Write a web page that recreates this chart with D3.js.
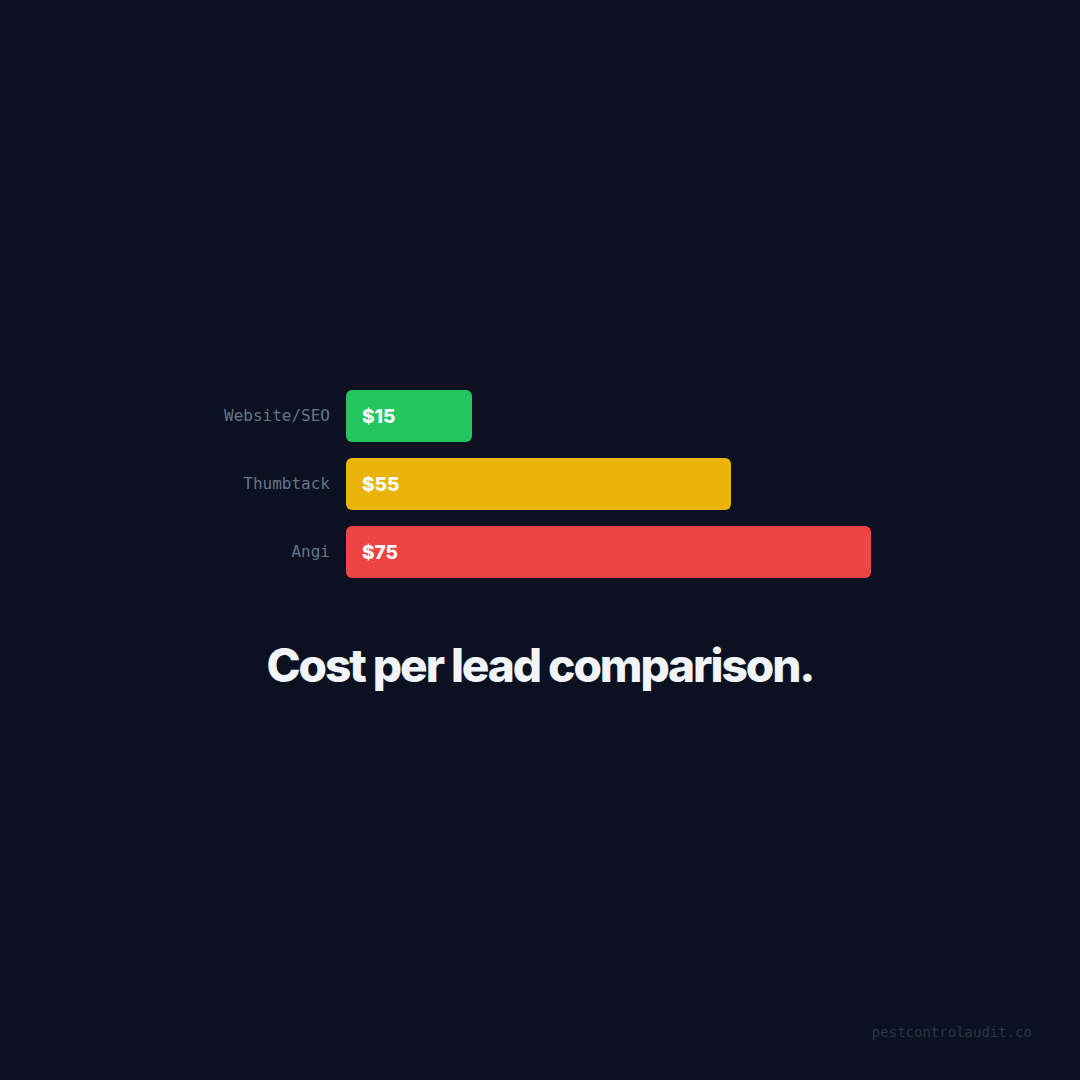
<!DOCTYPE html>
<html>
<head>
<meta charset="utf-8">
<script src="https://cdn.jsdelivr.net/npm/d3@7"></script>
<style>
  html, body { margin: 0; padding: 0; background: #0b1120; }
  svg { display: block; }
</style>
</head>
<body>
<div id="viz"></div>
<script>
const width = 1080;
const height = 1080;
const margin = {left: 346, top: 390};

// data
const channels = ['Website/SEO', 'Thumbtack', 'Angi'];
const costs = [15, 55, 75];
const colors = ['#22c55e', '#eab308', '#ef4444'];

const barHeight = 52;
const barGap = 16;
const minBar = 126; // short bars still keep room for the label

const svg = d3.select('#viz')
  .append('svg')
    .attr('width', width)
    .attr('height', height);

svg.append('rect')
  .attr('width', width)
  .attr('height', height)
  .attr('fill', '#0b1120');

// scales
const scaleX = d3.scaleLinear()
  .domain([0, d3.max(costs)])
  .range([margin.left, margin.left + 525]);

const scaleY = d3.scaleBand()
  .domain(channels)
  .range([margin.top, margin.top + channels.length * (barHeight + barGap) - barGap])
  .paddingInner(barGap / (barHeight + barGap));

const rows = channels.map((c, i) => ({name: c, value: costs[i], color: colors[i]}));

const bars = svg.append('g')
  .selectAll('g')
  .data(rows)
  .join('g');

bars.append('rect')
  .attr('x', scaleX(0))
  .attr('y', d => scaleY(d.name))
  .attr('width', d => Math.max(scaleX(d.value) - scaleX(0), minBar))
  .attr('height', scaleY.bandwidth())
  .attr('rx', 6)
  .attr('fill', d => d.color);

bars.append('text')
  .attr('x', scaleX(0) + 16)
  .attr('y', d => scaleY(d.name) + scaleY.bandwidth() / 2)
  .attr('dy', '0.35em')
  .style('font-family', 'Inter, sans-serif')
  .style('font-weight', 800)
  .style('font-size', '19px')
  .attr('fill', '#ffffff')
  .text(d => `$${d.value}`);

// category labels
const axisLeft = d3.axisLeft(scaleY).tickSize(0).tickPadding(16);
const yAxis = svg.append('g')
  .attr('transform', `translate(${scaleX(0)},0)`)
  .call(axisLeft);
yAxis.select('.domain').remove();
yAxis.selectAll('text')
  .style('font-family', '"DejaVu Sans Mono", monospace')
  .style('font-size', '16px')
  .attr('fill', '#64748b');

// title
svg.append('text')
  .attr('x', width / 2)
  .attr('y', 682)
  .attr('text-anchor', 'middle')
  .style('font-family', 'Inter, sans-serif')
  .style('font-weight', 800)
  .style('font-size', '46px')
  .style('letter-spacing', '-0.045em')
  .attr('fill', '#f1f5f9')
  .text('Cost per lead comparison.');

// footer
svg.append('text')
  .attr('x', 1032)
  .attr('y', 1037)
  .attr('text-anchor', 'end')
  .style('font-family', '"DejaVu Sans Mono", monospace')
  .style('font-size', '14px')
  .attr('fill', '#2b3546')
  .text('pestcontrolaudit.co');
</script>
</body>
</html>
